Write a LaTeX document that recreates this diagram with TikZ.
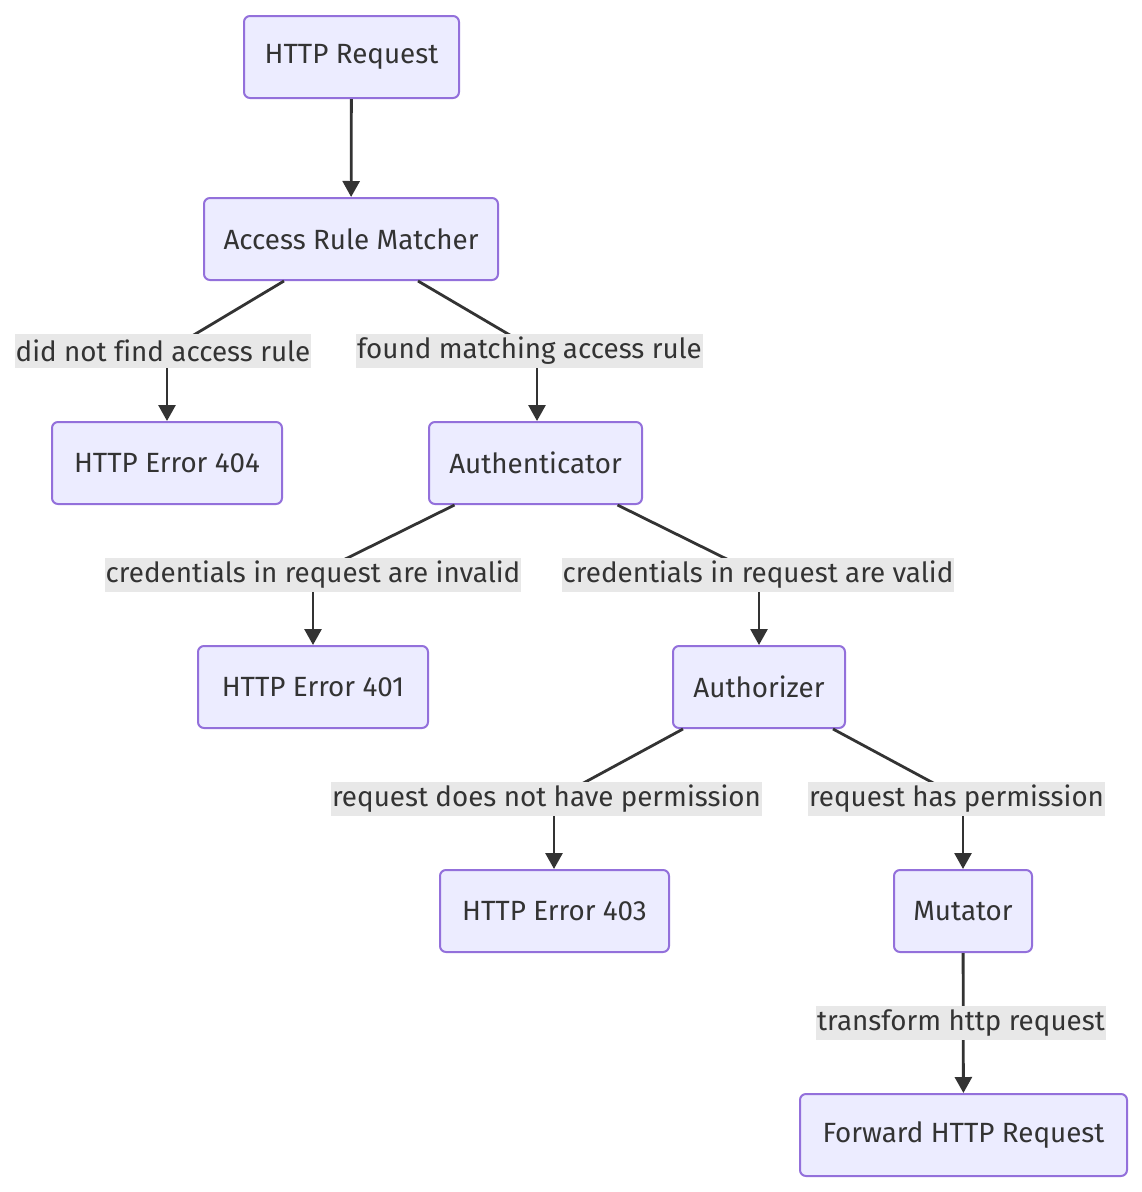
\documentclass[tikz,border=0pt]{standalone}
\usepackage{fontspec}
\setmainfont[Ligatures=NoCommon]{Fira Sans}
\usetikzlibrary{arrows.meta}
\definecolor{boxfill}{RGB}{236,236,255}
\definecolor{boxline}{RGB}{147,112,219}
\definecolor{ink}{RGB}{51,51,51}
\definecolor{labelfill}{RGB}{232,232,232}
\tikzset{every picture/.style={line width=0.75pt}}
\tikzset{
  stepnode/.style={draw=boxline, fill=boxfill, line width=2pt, rounded corners=6pt,
    minimum height=82pt, inner sep=0pt, text=ink, font=\fontsize{27.8}{32}\selectfont},
  edgelabel/.style={fill=labelfill, inner xsep=1pt, inner ysep=0pt, minimum height=34pt,
    text=ink, font=\fontsize{27.8}{32}\selectfont},
  flow/.style={draw=ink, line width=2.8pt, -{Triangle[length=16pt,width=17pt]}},
  plain/.style={draw=ink, line width=2.8pt}
}

\begin{document}
\begin{tikzpicture}[x=1pt,y=1pt,yscale=-1,xscale=1]
\useasboundingbox (0,0) rectangle (1142,1192);

% Nodes
\node [stepnode, minimum width=215pt] (req) at (351.5,57) {HTTP Request};
\node [stepnode, minimum width=294pt] (arm) at (351,239) {Access Rule Matcher};
\node [stepnode, minimum width=230pt] (e404) at (167,463) {HTTP Error 404};
\node [stepnode, minimum width=213pt] (authn) at (535.5,463) {Authenticator};
\node [stepnode, minimum width=230pt] (e401) at (313,687) {HTTP Error 401};
\node [stepnode, minimum width=172pt] (authz) at (759,687) {Authorizer};
\node [stepnode, minimum width=229pt] (e403) at (554.5,911) {HTTP Error 403};
\node [stepnode, minimum width=138pt] (mut) at (963,911) {Mutator};
\node [stepnode, minimum width=327pt] (fwd) at (963.5,1135) {Forward HTTP Request};

% Bends
\coordinate (b404) at (167,351);
\coordinate (bauthn) at (537,351);
\coordinate (b401) at (313,575);
\coordinate (bauthz) at (759,575);
\coordinate (b403) at (554,799);
\coordinate (bmut) at (963,799);

% Connections
\draw [flow] (req) -- (arm);
\draw [plain] ([xshift=-67pt]arm.south) -- (b404);
\draw [flow] (b404) -- (b404 |- e404.north);
\draw [plain] ([xshift=67pt]arm.south) -- (bauthn);
\draw [flow] (bauthn) -- (bauthn |- authn.north);
\draw [plain] ([xshift=-81pt]authn.south) -- (b401);
\draw [plain] ([xshift=82pt]authn.south) -- (bauthz);
\draw [flow] (b401) -- (b401 |- e401.north);
\draw [flow] (bauthz) -- (bauthz |- authz.north);
\draw [plain] ([xshift=-76pt]authz.south) -- (b403);
\draw [plain] ([xshift=74pt]authz.south) -- (bmut);
\draw [flow] (b403) -- (b403 |- e403.north);
\draw [flow] (bmut) -- (bmut |- mut.north);
\draw [flow] (mut) -- (fwd);

% Edge labels
\node [edgelabel] (l404) at (163,351) {did not find access rule};
\node [edgelabel] (lauthn) at (529.5,351) {found matching access rule};
\node [edgelabel] (l401) at (313,575) {credentials in request are invalid};
\node [edgelabel] (lauthz) at (758,575) {credentials in request are valid};
\node [edgelabel] (l403) at (546.5,799) {request does not have permission};
\node [edgelabel] (lmut) at (956.5,799) {request has permission};
\node [edgelabel] (lfwd) at (961,1023) {transform http request};

\end{tikzpicture}
\end{document}
